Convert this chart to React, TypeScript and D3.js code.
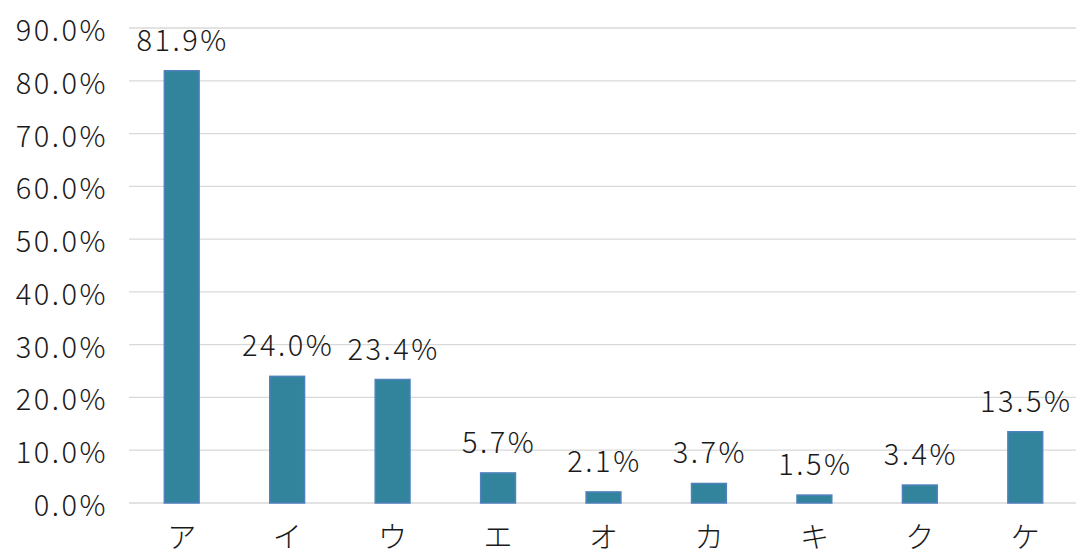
import React from 'react'
import * as d3 from 'd3'

const categories = ['ア', 'イ', 'ウ', 'エ', 'オ', 'カ', 'キ', 'ク', 'ケ']
const values = [81.9, 24.0, 23.4, 5.7, 2.1, 3.7, 1.5, 3.4, 13.5]
const yTicks = [0, 10, 20, 30, 40, 50, 60, 70, 80, 90]

const W = 1076
const H = 554
const FONT = '"Noto Sans CJK JP", "Noto Sans", sans-serif'

export default function App() {
  const x = d3.scaleBand<string>().domain(categories).range([129, 1078]).paddingInner(0.67).paddingOuter(0.335)
  const y = d3.scaleLinear().domain([0, 90]).range([503, 28])

  return (
    <svg
      width={W}
      height={H}
      style={{ position: 'absolute', left: 0, top: 0, background: '#fff' }}
      fontFamily={FONT}
      fontWeight={300}
    >
      {yTicks.map((t) => (
        <g key={t}>
          <line x1={129} x2={W} y1={y(t)} y2={y(t)} stroke="#d9d9d9" strokeWidth={1.3} />
          <text
            x={108}
            y={y(t)}
            textAnchor="end"
            dominantBaseline="central"
            fontSize={29}
            fill="#1a1a1a"
            letterSpacing={2.5}
          >
            {t.toFixed(1)}%
          </text>
        </g>
      ))}
      {categories.map((c, i) => {
        const bx = x(c)!
        const bw = x.bandwidth()
        const cx = bx + bw / 2
        return (
          <g key={c}>
            <rect
              x={bx}
              y={y(values[i])}
              width={bw}
              height={y(0) - y(values[i])}
              fill="#31849b"
              stroke="#4f81bd"
              strokeWidth={1.5}
            />
            <text
              x={cx + 1}
              y={y(values[i]) - 20}
              textAnchor="middle"
              fontSize={29}
              fill="#1a1a1a"
              letterSpacing={2.5}
            >
              {values[i].toFixed(1)}%
            </text>
            <text x={cx} y={548} textAnchor="middle" fontSize={29} fill="#1a1a1a">
              {c}
            </text>
          </g>
        )
      })}
    </svg>
  )
}
